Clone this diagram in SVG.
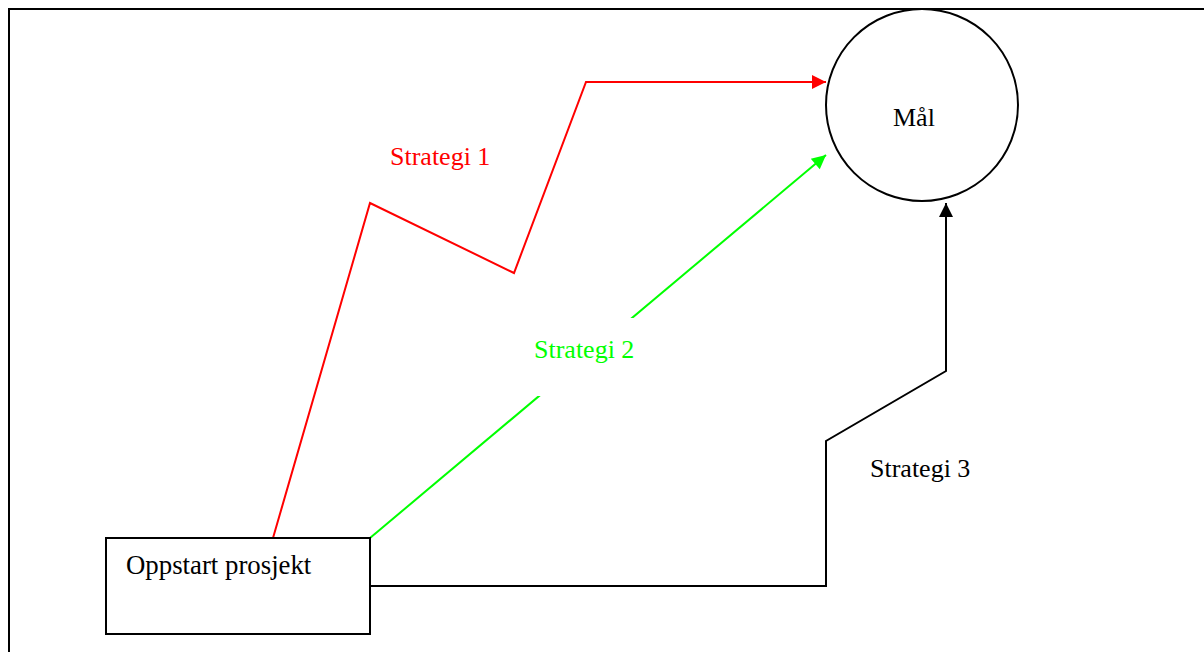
<svg xmlns="http://www.w3.org/2000/svg" width="1204" height="652" viewBox="0 0 1204 652">
<style>
text{font-family:"Liberation Serif","Times New Roman",serif;font-size:26px}
.n{fill:#fff;stroke:#000;stroke-width:2}
.c{fill:none;stroke-width:2}
</style>
<defs>
<marker id="ar" viewBox="0 0 10 10" refX="10" refY="5" markerWidth="8" markerHeight="7" markerUnits="strokeWidth" orient="auto"><path d="M0,0L10,5L0,10z" fill="#f00"/></marker>
<marker id="ag" viewBox="0 0 10 10" refX="10" refY="5" markerWidth="8" markerHeight="7" markerUnits="strokeWidth" orient="auto"><path d="M0,0L10,5L0,10z" fill="#0f0"/></marker>
<marker id="ak" viewBox="0 0 10 10" refX="10" refY="5" markerWidth="8" markerHeight="7" markerUnits="strokeWidth" orient="auto"><path d="M0,0L10,5L0,10z" fill="#000"/></marker>
</defs>
<rect x="0" y="0" width="1204" height="652" fill="#fff"/>
<rect x="9" y="9" width="1210" height="660" fill="none" stroke="#000" stroke-width="2"/>
<g id="connectors">
<polyline class="c" stroke="#f00" points="273,538 370,203 514,273 586,82 826,82" marker-end="url(#ar)"/>
<line class="c" stroke="#0f0" x1="370" y1="538" x2="826" y2="155" marker-end="url(#ag)"/>
<polyline class="c" stroke="#000" points="370,586 826,586 826,441 946,371 946,203" marker-end="url(#ak)"/>
<rect x="528" y="318" width="112" height="78" fill="#fff"/>
<text x="390" y="165" fill="#f00">Strategi 1</text>
<text x="534" y="358" fill="#0f0">Strategi 2</text>
<text x="870" y="477" fill="#000">Strategi 3</text>
</g>
<g id="mal">
<circle class="n" cx="922" cy="105" r="96"/>
<text x="893" y="126">Mål</text>
</g>
<g id="oppstart">
<rect class="n" x="106" y="538" width="264" height="96"/>
<text x="126" y="574" style="font-size:26.8px">Oppstart prosjekt</text>
</g>
</svg>
